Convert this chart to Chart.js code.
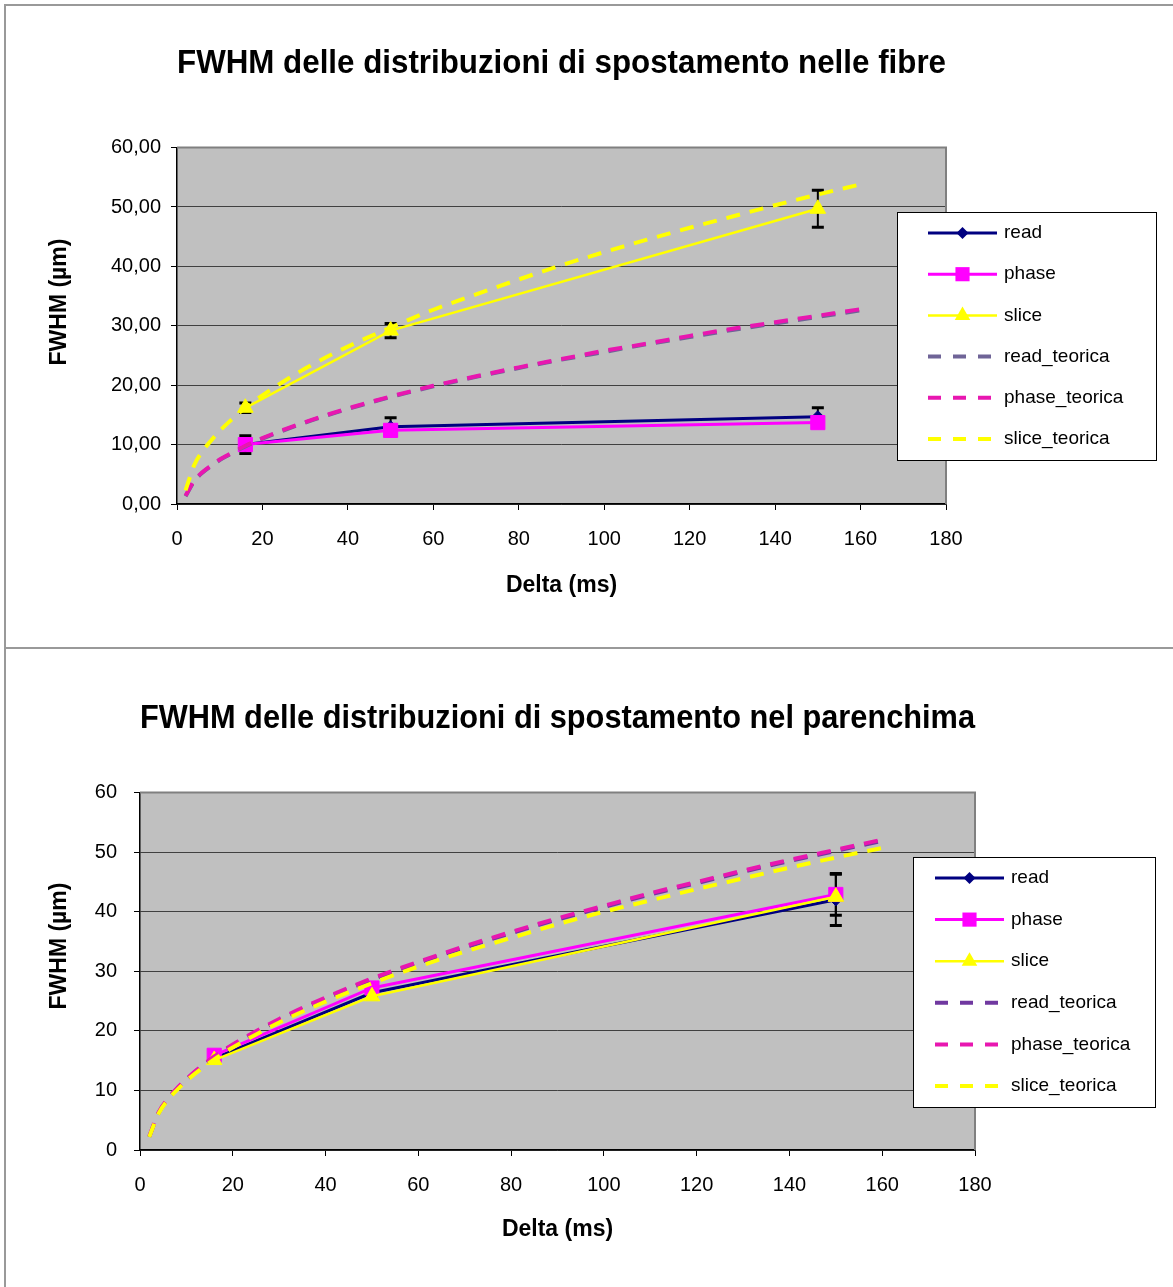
<!DOCTYPE html>
<html>
<head>
<meta charset="utf-8">
<script src="https://cdn.jsdelivr.net/npm/chart.js"></script>
<style>
  body { margin: 0; background: #fff; }
  .frame { position: absolute; left: 4px; width: 1175px; border-left: 2px solid #999; border-top: 2px solid #999; }
  #f1 { top: 4px; height: 641px; }
  #f2 { top: 647px; height: 640px; }
  canvas { position: absolute; left: 6px; }
  #c1 { top: 6px; }
  #c2 { top: 650px; }
</style>
</head>
<body>
<div class="frame" id="f1"></div>
<div class="frame" id="f2"></div>
<canvas id="c1" width="1167" height="642"></canvas>
<canvas id="c2" width="1167" height="637"></canvas>
<script>
// measured points (Delta in ms)
const delta = [16, 50, 150]
// fibre
const fibreRead = [10.0, 13.0, 14.7]
const fibreReadErr = [1.5, 1.5, 1.5]
const fibrePhase = [10.0, 12.4, 13.7]
const fibrePhaseErr = [0.6, 0.6, 0.6]
const fibreSlice = [16.2, 29.2, 49.7]
const fibreSliceErr = [0.8, 1.2, 3.1]
// parenchima
const parRead = [15.4, 26.4, 42.0]
const parReadErr = [0.4, 0.4, 4.3]
const parPhase = [15.9, 27.2, 42.9]
const parPhaseErr = [0.4, 0.4, 3.5]
const parSlice = [15.1, 25.8, 42.5]
const parSliceErr = [0.4, 0.4, 0.4]
// theoretical curves
const deltaTeo = [2, 4, 6, 8, 10, 12, 16, 20, 30, 40, 50, 60, 70, 80, 90, 100, 110, 120, 130, 140, 150, 160]
const fibreTeoRead = [1.3, 3.8, 5.3, 6.4, 7.4, 8.2, 9.7, 11.0, 13.7, 16.0, 18.0, 19.8, 21.4, 22.9, 24.3, 25.6, 26.9, 28.1, 29.3, 30.4, 31.5, 32.6]
const fibreTeoPhase = [1.4, 3.9, 5.4, 6.5, 7.5, 8.3, 9.8, 11.1, 13.8, 16.1, 18.1, 19.9, 21.5, 23.0, 24.4, 25.8, 27.0, 28.3, 29.5, 30.6, 31.7, 32.8]
const fibreTeoSlice = [2.3, 6.5, 8.9, 10.7, 12.3, 13.7, 16.2, 18.3, 22.8, 26.5, 29.7, 32.7, 35.3, 37.8, 40.2, 42.4, 44.5, 46.5, 48.4, 50.3, 52.1, 53.8]
const parTeoRead = [2.2, 6.2, 8.5, 10.3, 11.8, 13.2, 15.6, 17.6, 21.8, 25.4, 28.6, 31.4, 34.0, 36.4, 38.7, 40.8, 42.9, 44.8, 46.7, 48.5, 50.2, 51.9]
const parTeoPhase = [2.3, 6.3, 8.6, 10.4, 11.9, 13.3, 15.7, 17.7, 22.0, 25.6, 28.8, 31.6, 34.2, 36.6, 38.9, 41.0, 43.1, 45.0, 46.9, 48.7, 50.4, 52.1]
const parTeoSlice = [2.2, 6.1, 8.4, 10.1, 11.6, 12.9, 15.2, 17.2, 21.4, 24.9, 28.0, 30.8, 33.3, 35.6, 37.9, 40.0, 41.9, 43.8, 45.6, 47.4, 49.1, 50.7]

const labels = ["read", "phase", "slice", "read_teorica", "phase_teorica", "slice_teorica"]
const xTicks = [0, 20, 40, 60, 80, 100, 120, 140, 160, 180]

const FONT = "'Liberation Sans', Arial, sans-serif"

function pts(xs, ys) {
    return xs.map((x, i) => ({x: x, y: ys[i]}))
}

function marker(ctx, style, x, y, r, color) {
    ctx.fillStyle = color
    ctx.beginPath()
    if (style === "rectRot") {
        ctx.moveTo(x, y - r); ctx.lineTo(x + r, y); ctx.lineTo(x, y + r); ctx.lineTo(x - r, y)
    } else if (style === "rect") {
        let s = r * Math.SQRT1_2
        ctx.rect(x - s, y - s, 2 * s, 2 * s)
    } else if (style === "triangle") {
        ctx.moveTo(x, y - r); ctx.lineTo(x + r * 0.866, y + r / 2); ctx.lineTo(x - r * 0.866, y + r / 2)
    }
    ctx.closePath()
    ctx.fill()
}

// excel look: grey plot, error bars, y title, legend box over the plot
const excelLook = {
    id: "excelLook",
    beforeDraw(chart, args, o) {
        const a = chart.chartArea, ctx = chart.ctx
        ctx.save()
        ctx.fillStyle = "#c0c0c0"
        ctx.fillRect(a.left, a.top, a.right - a.left, a.bottom - a.top)
        ctx.restore()
    },
    beforeDatasetsDraw(chart, args, o) {
        const a = chart.chartArea, ctx = chart.ctx
        const xs = chart.scales.x, ys = chart.scales.y
        ctx.save()
        ctx.strokeStyle = "#808080"
        ctx.lineWidth = 2
        ctx.beginPath()
        ctx.moveTo(a.left, a.top); ctx.lineTo(a.right, a.top); ctx.lineTo(a.right, a.bottom)
        ctx.stroke()
        ctx.strokeStyle = "#000"
        o.errors.forEach(function(e) {
            chart.data.datasets[e.ds].data.forEach(function(p, i) {
                let x = xs.getPixelForValue(p.x)
                let yTop = ys.getPixelForValue(p.y + e.err[i])
                let yBot = ys.getPixelForValue(p.y - e.err[i])
                ctx.lineWidth = 2
                ctx.beginPath(); ctx.moveTo(x, yTop); ctx.lineTo(x, yBot); ctx.stroke()
                ctx.lineWidth = 3
                ctx.beginPath()
                ctx.moveTo(x - 6, yTop); ctx.lineTo(x + 6, yTop)
                ctx.moveTo(x - 6, yBot); ctx.lineTo(x + 6, yBot)
                ctx.stroke()
            })
        })
        ctx.restore()
    },
    afterDraw(chart, args, o) {
        const ctx = chart.ctx
        ctx.save()
        // y axis title
        ctx.translate(o.yTitle.x, o.yTitle.y)
        ctx.rotate(-Math.PI / 2)
        ctx.font = "bold 23px " + FONT
        ctx.fillStyle = "#000"
        ctx.textAlign = "center"
        ctx.textBaseline = "middle"
        ctx.fillText(o.yTitle.text, 0, 0)
        ctx.restore()

        // legend
        const L = o.legend
        ctx.save()
        ctx.fillStyle = "#fff"
        ctx.fillRect(L.x, L.y, L.w, L.h)
        ctx.strokeStyle = "#000"
        ctx.lineWidth = 1
        ctx.strokeRect(L.x + 0.5, L.y + 0.5, L.w, L.h)
        chart.data.datasets.forEach(function(ds, i) {
            let y = L.row0 + i * L.step
            ctx.strokeStyle = ds.borderColor
            ctx.lineWidth = ds.borderWidth
            ctx.setLineDash(ds.borderDash ? [13, 12] : [])
            ctx.beginPath(); ctx.moveTo(L.lineX0, y); ctx.lineTo(L.lineX1, y); ctx.stroke()
            ctx.setLineDash([])
            if (ds.pointRadius > 0) marker(ctx, ds.pointStyle, (L.lineX0 + L.lineX1) / 2, y, ds.pointRadius, ds.borderColor)
            ctx.fillStyle = "#000"
            ctx.font = "19px " + FONT
            ctx.textBaseline = "middle"
            ctx.textAlign = "left"
            ctx.fillText(ds.label, L.textX, y)
        })
        ctx.restore()
    }
}

function makeChart(id, d) {
    const styles = [
        {color: "#000080", width: 3, point: "rectRot", r: 6},
        {color: "#ff00ff", width: 3, point: "rect", r: 10},
        {color: "#ffff00", width: 2.5, point: "triangle", r: 9},
        {color: d.readTeoColor, width: 4},
        {color: "#e817b0", width: 4},
        {color: "#ffff00", width: 4}
    ]
    const series = [d.read, d.phase, d.slice, d.readTeo, d.phaseTeo, d.sliceTeo]
    const datasets = series.map(function(s, i) {
        const st = styles[i]
        const teo = i >= 3
        return {
            label: labels[i],
            data: teo ? pts(deltaTeo, s) : pts(delta, s),
            borderColor: st.color,
            backgroundColor: st.color,
            borderWidth: st.width,
            borderDash: teo ? [14, 10] : undefined,
            pointStyle: st.point || "circle",
            pointRadius: teo ? 0 : st.r,
            pointBorderWidth: 1,
            cubicInterpolationMode: teo ? "monotone" : "default",
            tension: 0,
            order: 6 - i
        }
    })

    return new Chart(id, {
        type: "line",
        data: {datasets: datasets},
        options: {
            responsive: false,
            animation: false,
            layout: {padding: {left: 0, top: 0, bottom: 0, right: d.padRight}},
            scales: {
                x: {
                    type: "linear", min: 0, max: 180,
                    afterBuildTicks: function(axis) { axis.ticks = xTicks.map(v => ({value: v})) },
                    afterFit: function(axis) { axis.height = d.xHeight },
                    grid: {drawOnChartArea: false, tickLength: 6, tickColor: "#000"},
                    border: {color: "#000", width: 1.5},
                    ticks: {font: {family: FONT, size: 20}, color: "#000", padding: 17, maxRotation: 0},
                    title: {display: true, text: "Delta (ms)", font: {family: FONT, size: 23, weight: "bold"}, color: "#000", padding: {top: 0, bottom: d.xTitlePad}}
                },
                y: {
                    min: 0, max: 60,
                    afterFit: function(axis) { axis.width = d.yWidth },
                    grid: {color: "#404040", tickLength: 6, tickColor: "#000"},
                    border: {color: "#000", width: 1.5},
                    ticks: {stepSize: 10, font: {family: FONT, size: 20}, color: "#000", padding: d.yTickPad, callback: d.fmt}
                }
            },
            plugins: {
                legend: {display: false},
                tooltip: {enabled: false},
                title: {
                    display: true, text: d.title, fullSize: false, color: "#000",
                    font: {family: FONT, size: 33, weight: "bold"},
                    padding: {top: d.titleTop, bottom: d.titleBottom}
                },
                excelLook: {
                    errors: [{ds: 0, err: d.readErr}, {ds: 1, err: d.phaseErr}, {ds: 2, err: d.sliceErr}],
                    yTitle: {text: "FWHM (µm)", x: 54, y: 296},
                    legend: d.legend
                }
            }
        },
        plugins: [excelLook]
    })
}

makeChart("c1", {
    title: "FWHM delle distribuzioni di spostamento nelle fibre",
    read: fibreRead, readErr: fibreReadErr,
    phase: fibrePhase, phaseErr: fibrePhaseErr,
    slice: fibreSlice, sliceErr: fibreSliceErr,
    readTeo: fibreTeoRead, phaseTeo: fibreTeoPhase, sliceTeo: fibreTeoSlice,
    readTeoColor: "#6f6497",
    fmt: v => v.toFixed(2).replace(".", ","),
    padRight: 227, yWidth: 171, yTickPad: 10, xHeight: 144, xTitlePad: 49,
    titleTop: 38, titleBottom: 64,
    legend: {x: 891, y: 206, w: 259, h: 248, row0: 227, step: 41.2, lineX0: 922, lineX1: 991, textX: 998}
})

makeChart("c2", {
    title: "FWHM delle distribuzioni di spostamento nel parenchima",
    read: parRead, readErr: parReadErr,
    phase: parPhase, phaseErr: parPhaseErr,
    slice: parSlice, sliceErr: parSliceErr,
    readTeo: parTeoRead, phaseTeo: parTeoPhase, sliceTeo: parTeoSlice,
    readTeoColor: "#7038a0",
    fmt: v => String(v),
    padRight: 198, yWidth: 134, yTickPad: 17, xHeight: 137, xTitlePad: 44,
    titleTop: 49, titleBottom: 54,
    legend: {x: 907, y: 207, w: 242, h: 250, row0: 228, step: 41.6, lineX0: 929, lineX1: 998, textX: 1005}
})
</script>
</body>
</html>
